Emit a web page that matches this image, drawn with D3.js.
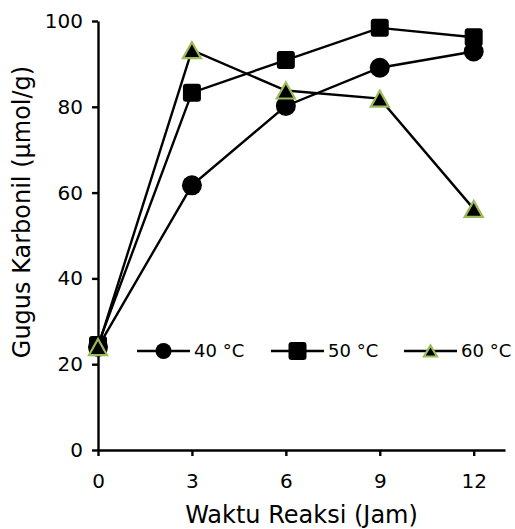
<!DOCTYPE html>
<html>
<head>
<meta charset="utf-8">
<script src="https://cdn.jsdelivr.net/npm/d3@7"></script>
<style>
    body { margin: 0; background: #fff; }
    svg text { font-family: "DejaVu Sans", Verdana, sans-serif; fill: #000; }
</style>
</head>
<body>
<div id="chart"></div>
<script>
// data
const hours = [0, 3, 6, 9, 12];
const seriesNames = ['40 °C', '50 °C', '60 °C'];
const val40 = [24.0, 61.7, 80.2, 89.1, 92.9];
const val50 = [24.5, 83.3, 90.9, 98.4, 96.2];
const val60 = [24.0, 93.2, 83.8, 81.9, 56.2];
const yTicks = [0, 20, 40, 60, 80, 100];
const xLabelText = 'Waktu Reaksi (Jam)';
const yLabelText = 'Gugus Karbonil (µmol/g)';

const width = 515,
    height = 529,
    margin = {top: 21, left: 98, right: 10, bottom: 79};

const series = [
    {name: seriesNames[0], values: val40, marker: 'circle'},
    {name: seriesNames[1], values: val50, marker: 'square'},
    {name: seriesNames[2], values: val60, marker: 'triangle'}
];

let svg = d3.select('#chart')
    .append('svg')
    .attr('width', width)
    .attr('height', height);

let xScale = d3.scaleLinear()
    .domain([0, 13])
    .range([margin.left, width - margin.right]);

let yScale = d3.scaleLinear()
    .domain([0, 100])
    .range([height - margin.bottom, margin.top]);

// axes
let xAxis = svg.append('g')
    .attr('transform', `translate(0,${height - margin.bottom})`)
    .call(d3.axisBottom(xScale).tickValues(hours).tickSizeInner(6).tickSizeOuter(0).tickPadding(18));

let yAxis = svg.append('g')
    .attr('transform', `translate(${margin.left},0)`)
    .call(d3.axisLeft(yScale).tickValues(yTicks).tickSizeInner(6).tickSizeOuter(0).tickPadding(9));

[xAxis, yAxis].forEach(ax => {
    ax.selectAll('path, line').attr('stroke', '#000').attr('stroke-width', 2.4);
    ax.selectAll('text').style('font-size', '20px').attr('fill', '#000');
});

// axis titles
svg.append('text')
    .attr('x', (margin.left + width - margin.right) / 2)
    .attr('y', 523)
    .attr('text-anchor', 'middle')
    .style('font-size', '24px')
    .text(xLabelText);

svg.append('text')
    .attr('transform', 'translate(30,212) rotate(-90)')
    .attr('text-anchor', 'middle')
    .style('font-size', '24px')
    .text(yLabelText);

// marker drawing
function drawMarker(g, type, big) {
    if (type === 'circle') {
        g.append('circle').attr('r', big ? 10 : 8).attr('fill', '#000');
    } else if (type === 'square') {
        let s = 18;
        g.append('rect')
            .attr('x', -s / 2).attr('y', -s / 2)
            .attr('width', s).attr('height', s)
            .attr('rx', 3).attr('fill', '#000');
    } else {
        let w = big ? 18 : 13, h = big ? 16 : 11;
        g.append('path')
            .attr('d', `M0,${-h / 2}L${w / 2},${h / 2}L${-w / 2},${h / 2}Z`)
            .attr('fill', '#000')
            .attr('stroke', '#9bbb59')
            .attr('stroke-width', 2.2)
            .attr('stroke-linejoin', 'miter');
    }
}

let line = d3.line()
    .x((d, i) => xScale(hours[i]))
    .y(d => yScale(d));

series.forEach(s => {
    svg.append('path')
        .datum(s.values)
        .attr('fill', 'none')
        .attr('stroke', '#000')
        .attr('stroke-width', 2.4)
        .attr('d', line);

    s.values.forEach((v, i) => {
        let g = svg.append('g')
            .attr('transform', `translate(${xScale(hours[i])},${yScale(v)})`);
        drawMarker(g, s.marker, true);
    });
});

// legend
let legendX = [137, 271, 404],
    legendY = 351;

series.forEach((s, i) => {
    let lg = svg.append('g').attr('transform', `translate(${legendX[i]},${legendY})`);
    lg.append('line')
        .attr('x1', 0).attr('x2', 53)
        .attr('stroke', '#000').attr('stroke-width', 2.4);
    let m = lg.append('g').attr('transform', 'translate(26.5,0)');
    drawMarker(m, s.marker, false);
    lg.append('text')
        .attr('x', 57)
        .attr('dy', '0.36em')
        .style('font-size', '18px')
        .text(s.name);
});
</script>
</body>
</html>
